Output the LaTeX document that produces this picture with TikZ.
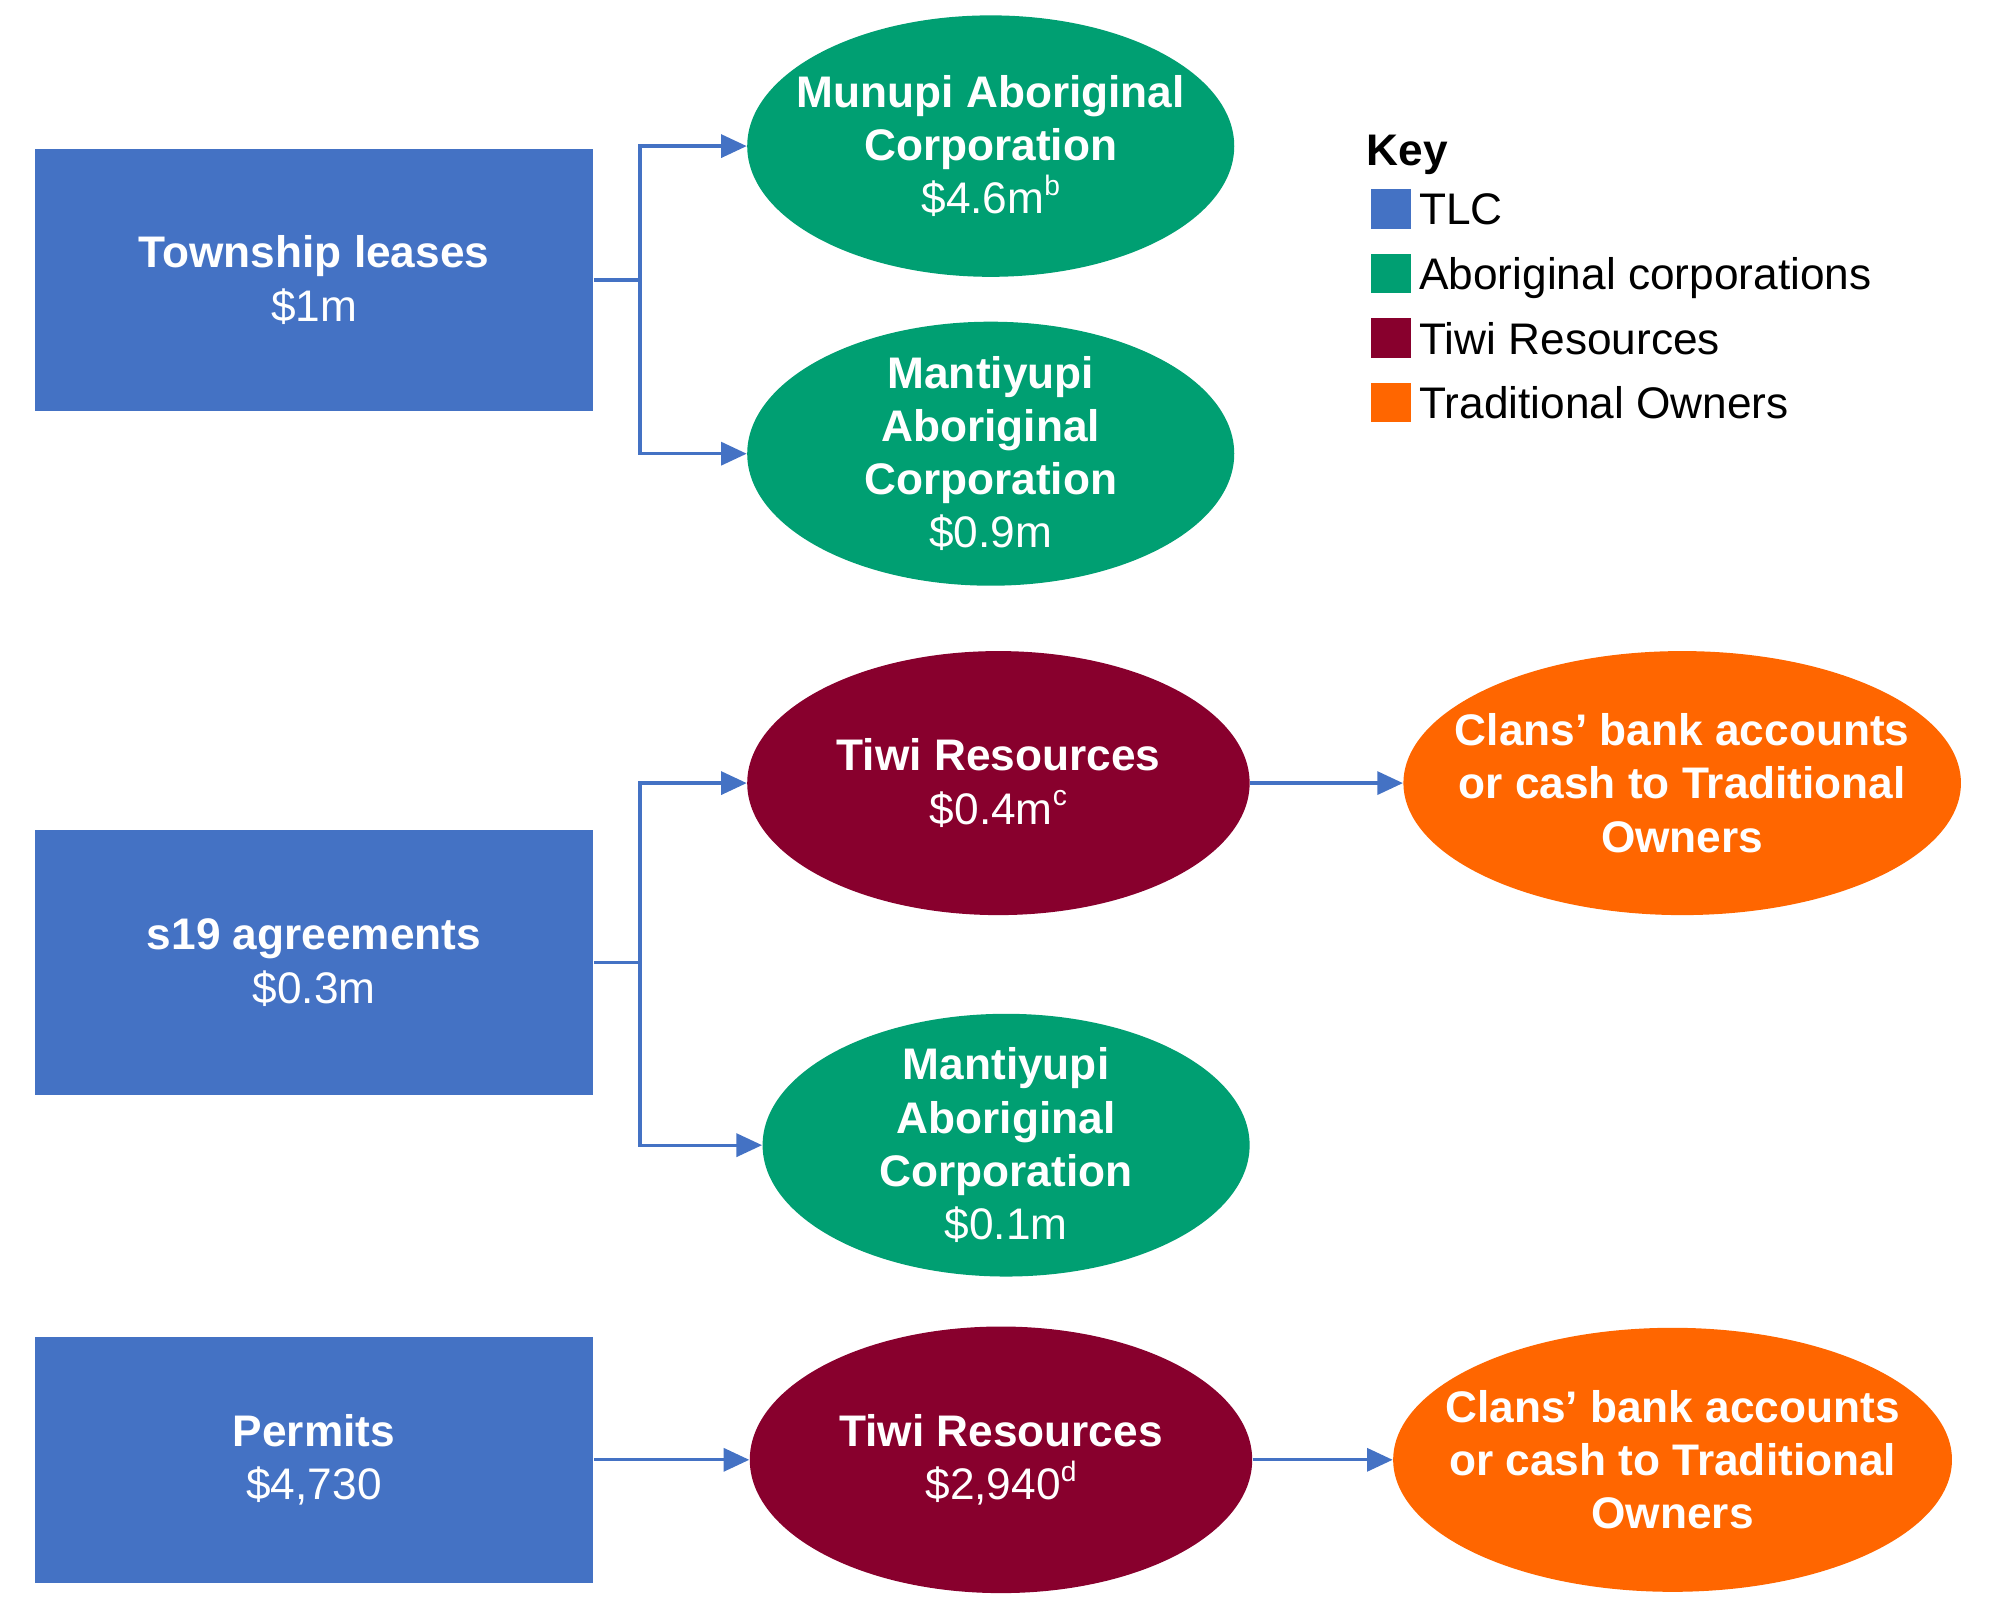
\documentclass[tikz,border=0pt]{standalone}
\usepackage{fontspec}
\setmainfont{Liberation Sans}
\usetikzlibrary{arrows.meta,shapes.geometric}
\definecolor{tlc}{HTML}{4472C4}
\definecolor{abo}{HTML}{009F72}
\definecolor{tiwi}{HTML}{88002D}
\definecolor{tro}{HTML}{FF6600}
\newcommand{\supnote}[1]{\raisebox{0.42em}{\fontsize{11}{11}\selectfont #1}}
\begin{document}
\begin{tikzpicture}[x=0.5pt,y=-0.5pt,
  txt/.style={text=white, align=center, font=\fontsize{17.25}{20.75}\selectfont, inner sep=0pt},
  box/.style={draw=none, fill=tlc, minimum width=218pt, inner sep=0pt},
  ell/.style={ellipse, inner sep=0pt, draw=none},
  conn/.style={draw=tlc, line width=1.25pt, -{Triangle[length=10pt,width=9pt]}},
  keytxt/.style={anchor=base west, inner sep=0pt, font=\fontsize{17.25}{20.75}\selectfont},
  sq/.style={minimum width=15.5pt, minimum height=15.5pt, inner sep=0pt, draw=none}
  ]
\useasboundingbox (0,0) rectangle (1567.5,1266.4);
% boxes
\node[box, minimum height=102.5pt] (tl) at (245,218.5) {};
\node[txt] (tlt) at (tl) {\textbf{Township leases}\\\$1m};
\node[box, minimum height=103.5pt] (s19) at (245,751) {};
\node[txt] (s19t) at (s19) {\textbf{s19 agreements}\\\$0.3m};
\node[box, minimum height=96pt] (perm) at (245,1139) {};
\node[txt] (permt) at (perm) {\textbf{Permits}\\\$4,730};
% ellipses
\node[ell, fill=abo, minimum width=190pt, minimum height=102pt] (mun) at (773,114) {};
\node[txt] (munt) at (mun) {\textbf{Munupi Aboriginal}\\\textbf{Corporation}\\\$4.6m\supnote{b}};
\node[ell, fill=abo, minimum width=190pt, minimum height=103pt] (man1) at (773,354) {};
\node[txt] (man1t) at (man1) {\textbf{Mantiyupi}\\\textbf{Aboriginal}\\\textbf{Corporation}\\\$0.9m};
\node[ell, fill=tiwi, minimum width=196pt, minimum height=103pt] (tiwi1) at (779,611) {};
\node[txt] (tiwi1t) at (tiwi1) {\textbf{Tiwi Resources}\\\$0.4m\supnote{c}};
\node[ell, fill=tro, minimum width=217.5pt, minimum height=103pt] (clan1) at (1312.5,611) {};
\node[txt] (clan1t) at (clan1) {\textbf{Clans’ bank accounts}\\\textbf{or cash to Traditional}\\\textbf{Owners}};
\node[ell, fill=abo, minimum width=190pt, minimum height=102.5pt] (man2) at (785,893.5) {};
\node[txt] (man2t) at (man2) {\textbf{Mantiyupi}\\\textbf{Aboriginal}\\\textbf{Corporation}\\\$0.1m};
\node[ell, fill=tiwi, minimum width=196pt, minimum height=104pt] (tiwi2) at (781,1139) {};
\node[txt] (tiwi2t) at (tiwi2) {\textbf{Tiwi Resources}\\\$2,940\supnote{d}};
\node[ell, fill=tro, minimum width=218pt, minimum height=103pt] (clan2) at (1305,1139) {};
\node[txt] (clan2t) at (clan2) {\textbf{Clans’ bank accounts}\\\textbf{or cash to Traditional}\\\textbf{Owners}};
% connectors
\draw[conn] (tl.east) -- ++(36,0) |- (mun.west);
\draw[conn] (tl.east) -- ++(36,0) |- (man1.west);
\draw[conn] (s19.east) -- ++(36,0) |- (tiwi1.west);
\draw[conn] (s19.east) -- ++(36,0) |- (man2.west);
\draw[conn] (perm.east) -- (tiwi2.west);
\draw[conn] (tiwi1.east) -- (clan1.west);
\draw[conn] (tiwi2.east) -- (clan2.west);
% key
\node[keytxt, font=\fontsize{17.25}{20.75}\selectfont\bfseries] (key) at (1066,129.5) {Key};
\node[sq, fill=tlc] (k1) at (1085.5,163) {};
\node[keytxt] (k1t) at (1107,175.5) {TLC};
\node[sq, fill=abo] (k2) at (1085.5,213.5) {};
\node[keytxt] (k2t) at (1107,226) {Aboriginal corporations};
\node[sq, fill=tiwi] (k3) at (1085.5,264) {};
\node[keytxt] (k3t) at (1107,276.5) {Tiwi Resources};
\node[sq, fill=tro] (k4) at (1085.5,314) {};
\node[keytxt] (k4t) at (1107,326.5) {Traditional Owners};
\end{tikzpicture}
\end{document}
